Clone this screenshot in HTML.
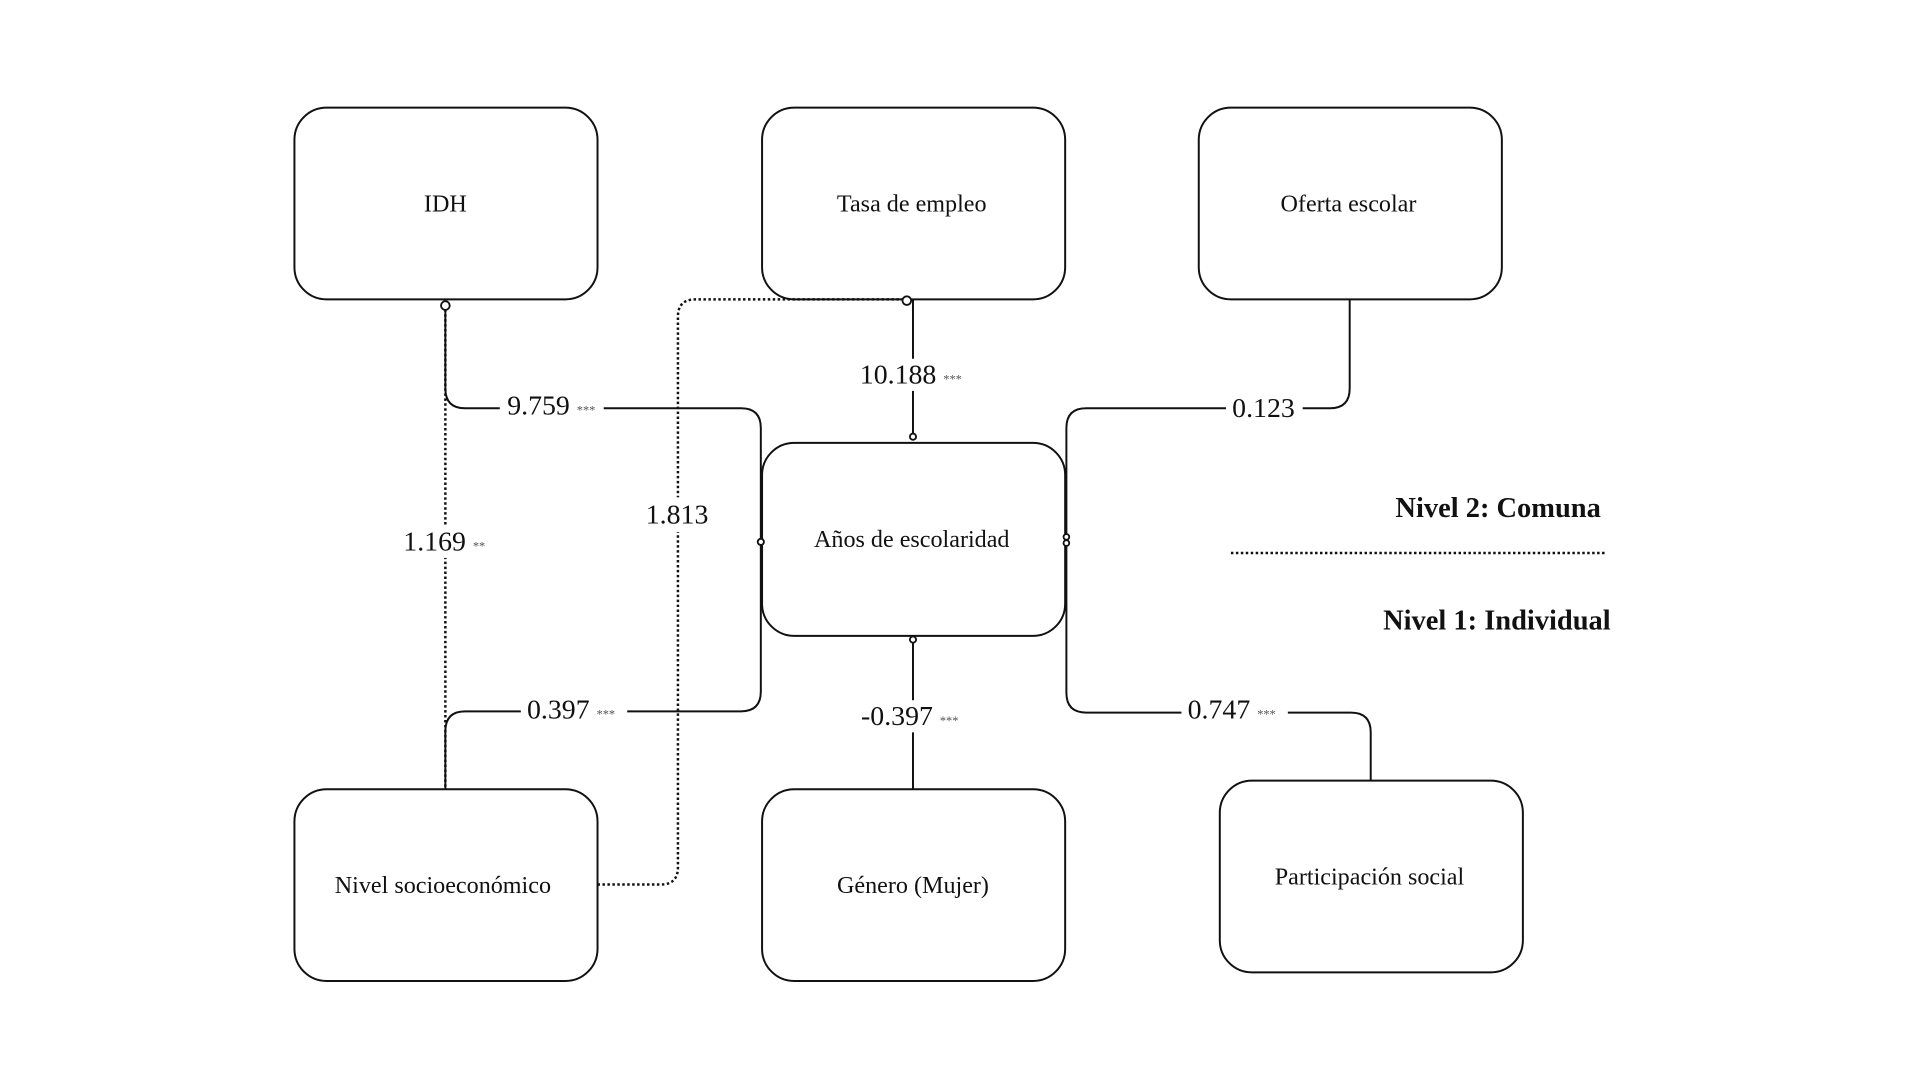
<!DOCTYPE html>
<html><head><meta charset="utf-8"><style>
html,body{margin:0;padding:0;background:#fff;width:1920px;height:1080px;overflow:hidden}
svg{display:block}
text{font-family:"Liberation Serif",serif;fill:#111}
</style></head><body>
<svg width="1920" height="1080" viewBox="0 0 1552 873" xmlns="http://www.w3.org/2000/svg">
<g fill="#fff" stroke="#111" stroke-width="1.6">
<rect x="238" y="87" width="245" height="155" rx="26"/>
<rect x="616" y="87" width="245" height="155" rx="26"/>
<rect x="969" y="87" width="245" height="155" rx="26"/>
<rect x="616" y="358" width="245" height="156" rx="26"/>
<rect x="238" y="638" width="245" height="155" rx="26"/>
<rect x="616" y="638" width="245" height="155" rx="26"/>
<rect x="986" y="631" width="245" height="155" rx="26"/>
</g>
<g fill="none" stroke="#111" stroke-width="1.6">
<path d="M360 247 V314 Q360 330 376 330 H599 Q615 330 615 346 V438"/>
<path d="M738 242 V353"/>
<path d="M1091 242 V314 Q1091 330 1075 330 H878 Q862 330 862 346 V438"/>
<path d="M360 638 V591 Q360 575 376 575 H599 Q615 575 615 559 V438"/>
<path d="M738 638 V517"/>
<path d="M1108 631 V592 Q1108 576 1092 576 H878 Q862 576 862 560 V438"/>
</g>
<g fill="none" stroke="#111" stroke-width="2" stroke-dasharray="2,2">
<path d="M360 250 V638"/>
<path d="M483 715 H534 Q548 715 548 701 V256 Q548 242 562 242 H733"/>
<path d="M995 447 H1297"/>
</g>
<g fill="#fff" stroke="#111" stroke-width="1.5">
<circle cx="360" cy="247" r="3.5"/>
<circle cx="733" cy="243" r="3.5"/>
<circle cx="738" cy="353" r="2.5"/>
<circle cx="738" cy="517" r="2.5"/>
<circle cx="615" cy="438" r="2.5"/>
<circle cx="862" cy="434" r="2.3"/>
<circle cx="862" cy="439" r="2.3"/>
</g>
<g fill="#fff" stroke="none">
<rect x="404" y="318" width="84" height="22"/>
<rect x="690" y="290" width="96" height="26"/>
<rect x="991" y="318" width="62" height="24"/>
<rect x="320" y="425" width="80" height="26"/>
<rect x="517" y="402" width="62" height="28"/>
<rect x="421" y="563" width="86" height="24"/>
<rect x="691" y="566" width="94" height="26"/>
<rect x="955" y="563" width="86" height="24"/>
</g>
<g font-size="19.5" text-anchor="middle">
<text x="737" y="171">Tasa de empleo</text>
<text x="360" y="171">IDH</text>
<text x="1090" y="171">Oferta escolar</text>
<text x="737" y="442">Años de escolaridad</text>
<text x="358" y="722">Nivel socioeconómico</text>
<text x="738" y="722">Género (Mujer)</text>
<text x="1107" y="715">Participación social</text>
</g>
<g font-size="22.5">
<text x="410" y="335">9.759 <tspan font-size="10" fill="#555">***</tspan></text>
<text x="695" y="310">10.188 <tspan font-size="10" fill="#555">***</tspan></text>
<text x="996" y="337">0.123</text>
<text x="326" y="445">1.169 <tspan font-size="10" fill="#555">**</tspan></text>
<text x="522" y="423">1.813</text>
<text x="426" y="581">0.397 <tspan font-size="10" fill="#555">***</tspan></text>
<text x="696" y="586">-0.397 <tspan font-size="10" fill="#555">***</tspan></text>
<text x="960" y="581">0.747 <tspan font-size="10" fill="#555">***</tspan></text>
</g>
<g font-size="23" font-weight="bold" text-anchor="middle">
<text x="1211" y="418">Nivel 2: Comuna</text>
<text x="1210" y="509">Nivel 1: Individual</text>
</g>
</svg>
</body></html>
